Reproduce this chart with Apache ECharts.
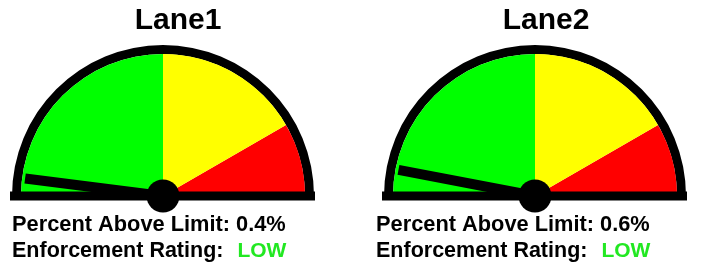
<!DOCTYPE html>
<html>
<head>
<meta charset="utf-8">
<script src="https://cdn.jsdelivr.net/npm/echarts@6/dist/echarts.min.js"></script>
<style>
  html, body { margin: 0; padding: 0; background: #fff; }
  #main { width: 708px; height: 264px; }
</style>
</head>
<body>
<div id="main"></div>
<script>
// chart data
var laneNames = ['Lane1', 'Lane2'];
var percentAbove = [0.4, 0.6];      // % above limit
var ratings = ['LOW', 'LOW'];
var scaleMin = 0;
var scaleMax = 10;
var bandLimits = [5, 8.333, 10];    // green / yellow / red upper limits
var bandColors = ['#00ff00', '#ffff00', '#ff0000'];

// layout
var centersX = [163, 535];
var titlesX = [178, 546];
var textLeft = [12, 376];
var centerY = 196;
var outerR = 151;   // outside of black rim
var rimW = 9;
var fontFam = '"Liberation Sans", Arial, sans-serif';

var chart = echarts.init(document.getElementById('main'));

function bandStops() {
	var stops = [];
	for (var i = 0; i < bandLimits.length; i++) {
		stops.push([(bandLimits[i] - scaleMin) / (scaleMax - scaleMin), bandColors[i]]);
	}
	return stops;
}

var series = [];
var graphics = [];

laneNames.forEach(function (name, i) {
	var cx = centersX[i];
	// black rim
	series.push({
		type: 'gauge',
		center: [cx, centerY],
		radius: outerR,
		startAngle: 180,
		endAngle: 0,
		min: scaleMin,
		max: scaleMax,
		silent: true,
		axisLine: { lineStyle: { width: rimW, color: [[1, '#000']] } },
		splitLine: { show: false },
		axisTick: { show: false },
		axisLabel: { show: false },
		pointer: { show: false },
		anchor: { show: false },
		title: { show: false },
		detail: { show: false },
		data: [{ value: 0 }]
	});
	// coloured face + needle
	var innerR = outerR - rimW;
	series.push({
		type: 'gauge',
		center: [cx, centerY],
		radius: innerR,
		startAngle: 180,
		endAngle: 0,
		min: scaleMin,
		max: scaleMax,
		axisLine: { lineStyle: { width: innerR, color: bandStops() } },
		splitLine: { show: false },
		axisTick: { show: false },
		axisLabel: { show: false },
		pointer: { icon: 'rect', length: innerR - 3, width: 10, itemStyle: { color: '#000' } },
		anchor: { show: true, showAbove: true, size: 33, itemStyle: { color: '#000' } },
		title: { show: false },
		detail: { show: false },
		data: [{ value: percentAbove[i], name: name }],
		z: 3
	});
	// base bar
	graphics.push({
		type: 'rect',
		z: 5,
		shape: { x: cx - outerR - 2, y: centerY - 4.5, width: outerR * 2 + 3, height: 9 },
		style: { fill: '#000' }
	});
	// lane title
	graphics.push({
		type: 'text',
		z: 5,
		x: titlesX[i],
		y: 21,
		style: {
			text: name,
			font: 'bold 30px ' + fontFam,
			fill: '#000',
			align: 'center',
			verticalAlign: 'middle'
		}
	});
	// readouts
	graphics.push({
		type: 'text',
		z: 5,
		x: textLeft[i],
		y: 224.5,
		style: {
			text: 'Percent Above Limit: ' + percentAbove[i] + '%',
			font: 'bold 21.8px ' + fontFam,
			fill: '#000',
			align: 'left',
			verticalAlign: 'middle'
		}
	});
	graphics.push({
		type: 'text',
		z: 5,
		x: textLeft[i],
		y: 251,
		style: {
			text: '{b|Enforcement Rating:  }{g|' + ratings[i] + '}',
			align: 'left',
			verticalAlign: 'middle',
			rich: {
				b: { font: 'bold 21.5px ' + fontFam, fill: '#000' },
				g: { font: 'bold 21px ' + fontFam, fill: '#22e822', padding: [0, 0, 0, 2] }
			}
		}
	});
});

chart.setOption({
	animation: false,
	backgroundColor: '#fff',
	series: series,
	graphic: graphics
});
</script>
</body>
</html>
